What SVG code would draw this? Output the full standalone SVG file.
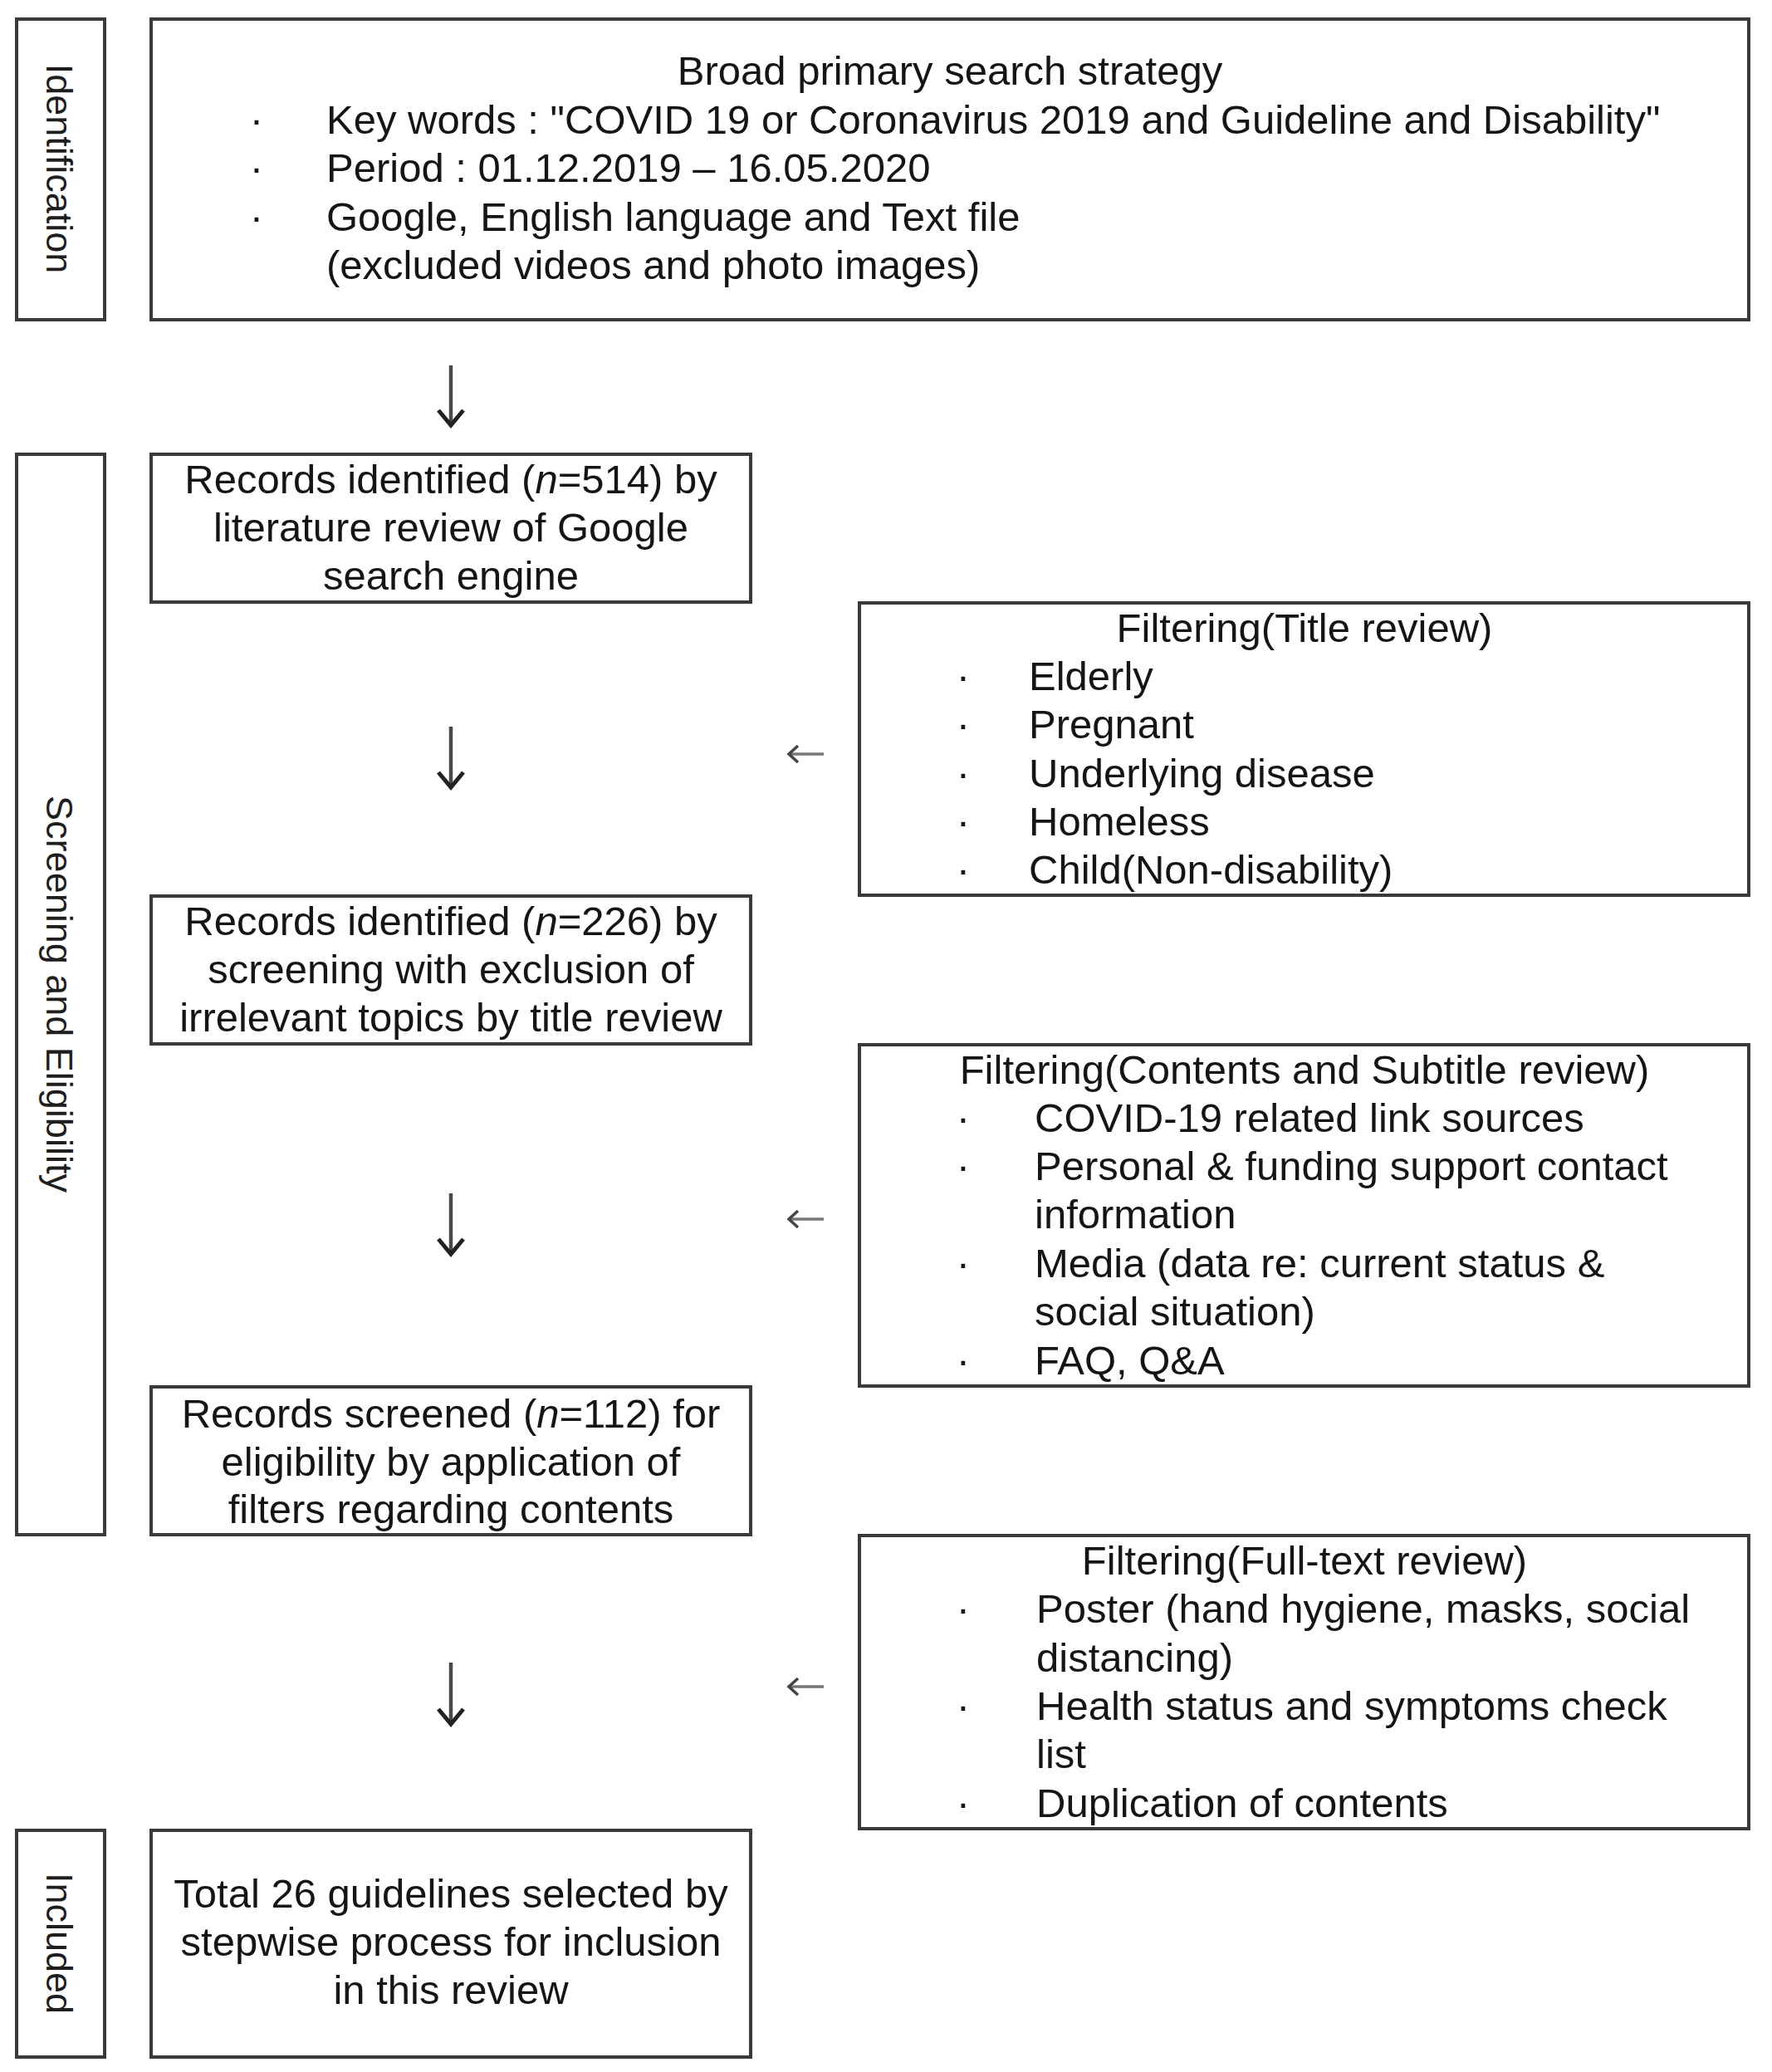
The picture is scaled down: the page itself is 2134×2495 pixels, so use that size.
<svg xmlns="http://www.w3.org/2000/svg" width="2134" height="2495" viewBox="0 0 2134 2495">
<style>
  .box { fill: #ffffff; stroke: #3a3a3a; stroke-width: 4; }
  .t { font-family: "Liberation Sans", Arial, sans-serif; font-size: 49px; fill: #151515; }
  .c { text-anchor: middle; }
  .v { font-family: "Liberation Sans", Arial, sans-serif; font-size: 45px; fill: #1e1e1e; text-anchor: middle; }
  .shaft { stroke: #4a4a4a; stroke-width: 4.5; fill: none; }
  .head { stroke: #222; stroke-width: 5; fill: none; stroke-linejoin: miter; }
  .lshaft { stroke: #777; stroke-width: 3.5; fill: none; }
  .lhead { stroke: #444; stroke-width: 3.5; fill: none; }
</style>
<rect width="2134" height="2495" fill="#ffffff"/>

<g id="label-identification">
  <rect class="box" x="20" y="23" width="106" height="362"/>
  <text class="v" transform="translate(56,203) rotate(90)">Identification</text>
</g>
<g id="label-screening">
  <rect class="box" x="20" y="547" width="106" height="1301"/>
  <text class="v" transform="translate(56,1197) rotate(90)">Screening and Eligibility</text>
</g>
<g id="label-included">
  <rect class="box" x="20" y="2204" width="106" height="273"/>
  <text class="v" transform="translate(56,2340) rotate(90)">Included</text>
</g>

<g id="search-strategy">
  <rect class="box" x="182" y="23" width="1924" height="362"/>
  <text class="t c" x="1144" y="102">Broad primary search strategy</text>
  <text class="t c" x="309" y="161">·</text>
  <text class="t" x="393" y="161">Key words : "COVID 19 or Coronavirus 2019 and Guideline and Disability"</text>
  <text class="t c" x="309" y="219">·</text>
  <text class="t" x="393" y="219">Period : 01.12.2019 – 16.05.2020</text>
  <text class="t c" x="309" y="278">·</text>
  <text class="t" x="393" y="278">Google, English language and Text file</text>
  <text class="t" x="393" y="336">(excluded videos and photo images)</text>
</g>

<g id="records-514">
  <rect class="box" x="182" y="547" width="722" height="178"/>
  <text class="t c" x="543" y="594">Records identified (<tspan font-style="italic">n</tspan>=514) by</text>
  <text class="t c" x="543" y="652">literature review of Google</text>
  <text class="t c" x="543" y="710">search engine</text>
</g>

<g id="records-226">
  <rect class="box" x="182" y="1079" width="722" height="178"/>
  <text class="t c" x="543" y="1126">Records identified (<tspan font-style="italic">n</tspan>=226) by</text>
  <text class="t c" x="543" y="1184">screening with exclusion of</text>
  <text class="t c" x="543" y="1242">irrelevant topics by title review</text>
</g>

<g id="records-112">
  <rect class="box" x="182" y="1670" width="722" height="178"/>
  <text class="t c" x="543" y="1719">Records screened (<tspan font-style="italic">n</tspan>=112) for</text>
  <text class="t c" x="543" y="1777">eligibility by application of</text>
  <text class="t c" x="543" y="1834">filters regarding contents</text>
</g>

<g id="included-26">
  <rect class="box" x="182" y="2204" width="722" height="273"/>
  <text class="t c" x="543" y="2297">Total 26 guidelines selected by</text>
  <text class="t c" x="543" y="2355">stepwise process for inclusion</text>
  <text class="t c" x="543" y="2413">in this review</text>
</g>

<g id="filter-title">
  <rect class="box" x="1035" y="726" width="1071" height="352"/>
  <text class="t c" x="1571" y="773">Filtering(Title review)</text>
  <text class="t c" x="1160" y="831">·</text>
  <text class="t" x="1239" y="831">Elderly</text>
  <text class="t c" x="1160" y="889">·</text>
  <text class="t" x="1239" y="889">Pregnant</text>
  <text class="t c" x="1160" y="948">·</text>
  <text class="t" x="1239" y="948">Underlying disease</text>
  <text class="t c" x="1160" y="1006">·</text>
  <text class="t" x="1239" y="1006">Homeless</text>
  <text class="t c" x="1160" y="1064">·</text>
  <text class="t" x="1239" y="1064">Child(Non-disability)</text>
</g>

<g id="filter-contents">
  <rect class="box" x="1035" y="1258" width="1071" height="411"/>
  <text class="t c" x="1571" y="1305">Filtering(Contents and Subtitle review)</text>
  <text class="t c" x="1160" y="1363">·</text>
  <text class="t" x="1246" y="1363">COVID-19 related link sources</text>
  <text class="t c" x="1160" y="1421">·</text>
  <text class="t" x="1246" y="1421">Personal &amp; funding support contact</text>
  <text class="t" x="1246" y="1479">information</text>
  <text class="t c" x="1160" y="1538">·</text>
  <text class="t" x="1246" y="1538">Media (data re: current status &amp;</text>
  <text class="t" x="1246" y="1596">social situation)</text>
  <text class="t c" x="1160" y="1655">·</text>
  <text class="t" x="1246" y="1655">FAQ, Q&amp;A</text>
</g>

<g id="filter-fulltext">
  <rect class="box" x="1035" y="1849" width="1071" height="353"/>
  <text class="t c" x="1571" y="1896">Filtering(Full-text review)</text>
  <text class="t c" x="1160" y="1954">·</text>
  <text class="t" x="1248" y="1954">Poster (hand hygiene, masks, social</text>
  <text class="t" x="1248" y="2013">distancing)</text>
  <text class="t c" x="1160" y="2071">·</text>
  <text class="t" x="1248" y="2071">Health status and symptoms check</text>
  <text class="t" x="1248" y="2129">list</text>
  <text class="t c" x="1160" y="2188">·</text>
  <text class="t" x="1248" y="2188">Duplication of contents</text>
</g>

<g id="connectors">
  <path class="shaft" d="M543,440 V510"/>
  <path class="head" d="M528,494 L543,512 L558,494"/>
  <path class="shaft" d="M543,875 V946"/>
  <path class="head" d="M528,930 L543,948 L558,930"/>
  <path class="shaft" d="M543,1437 V1508"/>
  <path class="head" d="M528,1492 L543,1510 L558,1492"/>
  <path class="shaft" d="M543,2002 V2074"/>
  <path class="head" d="M528,2058 L543,2076 L558,2058"/>

  <path class="lshaft" d="M992,908 H951"/>
  <path class="lhead" d="M961,898 L950,908 L961,918"/>
  <path class="lshaft" d="M992,1468 H951"/>
  <path class="lhead" d="M961,1458 L950,1468 L961,1478"/>
  <path class="lshaft" d="M992,2031 H951"/>
  <path class="lhead" d="M961,2021 L950,2031 L961,2041"/>
</g>
</svg>
